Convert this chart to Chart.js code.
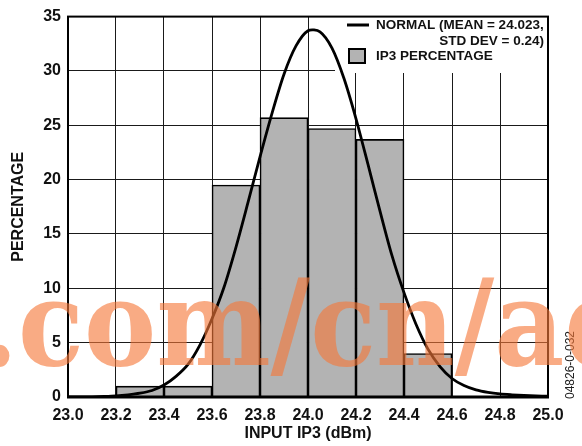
<!DOCTYPE html>
<html><head><meta charset="utf-8">
<script src="https://cdn.jsdelivr.net/npm/chart.js@4.4.1/dist/chart.umd.min.js"></script>
<style>html,body{margin:0;padding:0;background:#fff}#wrap{width:582px;height:446px;position:relative}</style>
</head><body><div id="wrap"><canvas id="c" width="582" height="446"></canvas></div>
<script>
// Histogram bins (centres, dBm) and percentages
const binCenters = [23.3, 23.5, 23.7, 23.9, 24.1, 24.3, 24.5];
const ip3Percentage = [1.0, 1.0, 19.5, 25.7, 24.7, 23.7, 4.0];
// Normal curve
const curveX = [23.00,23.05,23.10,23.15,23.20,23.25,23.30,23.35,23.40,23.45,23.50,23.55,23.60,23.65,23.70,23.75,23.80,23.85,23.90,23.95,24.00,24.05,24.10,24.15,24.20,24.25,24.30,24.35,24.40,24.45,24.50,24.55,24.60,24.65,24.70,24.75,24.80,24.85,24.90,24.95,25.00];
const curveY = [0.0,0.0,0.02,0.05,0.1,0.2,0.35,0.6,1.1,1.9,3.0,4.8,7.2,10.1,13.8,17.9,22.1,26.1,29.7,32.3,33.7,33.6,32.1,29.3,25.6,21.4,17.1,13.0,9.6,6.7,4.4,2.8,1.7,1.05,0.65,0.42,0.28,0.2,0.14,0.1,0.08];
const xTickLabels = ['23.0','23.2','23.4','23.6','23.8','24.0','24.2','24.4','24.6','24.8','25.0'];
const yTickLabels = ['0','5','10','15','20','25','30','35'];
const legendLabels = ['NORMAL (MEAN = 24.023,', 'STD DEV = 0.24)', 'IP3 PERCENTAGE'];
const xTitle = 'INPUT IP3 (dBm)';
const yTitle = 'PERCENTAGE';
const watermark = '.com/cn/ad';
const figId = '04826-0-032';

const FONT = 'Liberation Sans, Arial, Helvetica, sans-serif';
const GRAY = '#b3b3b3';

const decor = {
  id: 'decor',
  beforeDatasetsDraw(chart) {
    const {ctx, chartArea: a} = chart;
    ctx.save();
    ctx.fillStyle = '#fff';
    ctx.fillRect(335, a.top, a.right - 335, 73 - a.top);
    ctx.restore();
  },
  afterDatasetsDraw(chart) {
    const {ctx, chartArea: a} = chart;
    ctx.save();
    ctx.strokeStyle = '#000';
    ctx.lineWidth = 2;
    ctx.strokeRect(a.left, a.top, a.right - a.left, a.bottom - a.top);
    ctx.lineWidth = 3;
    ctx.beginPath(); ctx.moveTo(a.left - 1, a.bottom); ctx.lineTo(a.right + 1, a.bottom); ctx.stroke();
    // legend
    ctx.lineWidth = 3;
    ctx.beginPath(); ctx.moveTo(347, 25); ctx.lineTo(369, 25); ctx.stroke();
    ctx.fillStyle = GRAY; ctx.fillRect(349, 49, 16, 14);
    ctx.lineWidth = 2; ctx.strokeRect(349, 49, 16, 14);
    ctx.fillStyle = '#111';
    ctx.font = 'bold 13.5px ' + FONT;
    ctx.textBaseline = 'middle';
    ctx.textAlign = 'left';
    ctx.fillText(legendLabels[0], 376, 25);
    ctx.textAlign = 'right';
    ctx.fillText(legendLabels[1], 544, 41.5);
    ctx.textAlign = 'left';
    ctx.fillText(legendLabels[2], 376, 56);
    ctx.restore();
  },
  afterDraw(chart) {
    const {ctx} = chart;
    ctx.save();
    // figure id
    ctx.translate(571, 365);
    ctx.rotate(-Math.PI / 2);
    ctx.fillStyle = '#222';
    ctx.font = '12px ' + FONT;
    ctx.textAlign = 'center';
    ctx.textBaseline = 'middle';
    ctx.fillText(figId, 0, 0);
    ctx.restore();
    ctx.save();
    ctx.globalAlpha = 0.62;
    ctx.fillStyle = 'rgb(246,120,56)';
    ctx.font = 'bold 118px "DejaVu Serif", serif';
    ctx.textAlign = 'left';
    ctx.textBaseline = 'alphabetic';
    ctx.translate(-19.6, 365);
    ctx.scale(0.917, 1.02);
    ctx.fillText(watermark, 0, 0);
    ctx.restore();
  }
};

new Chart(document.getElementById('c'), {
  type: 'bar',
  data: {
    datasets: [
      {
        type: 'line',
        label: 'NORMAL',
        data: curveX.map((x, i) => ({x, y: curveY[i]})),
        borderColor: '#000',
        borderWidth: 2.8,
        pointRadius: 0,
        tension: 0.3,
        fill: false,
        order: 0
      },
      {
        type: 'bar',
        label: 'IP3 PERCENTAGE',
        data: binCenters.map((x, i) => ({x, y: ip3Percentage[i]})),
        backgroundColor: GRAY,
        borderColor: '#000',
        borderWidth: 1.6,
        borderSkipped: 'bottom',
        barPercentage: 1,
        categoryPercentage: 1,
        order: 1
      }
    ]
  },
  options: {
    responsive: false,
    animation: false,
    devicePixelRatio: 1,
    layout: {padding: {top: 14, right: 34, left: 0, bottom: 0}},
    plugins: {legend: {display: false}, tooltip: {enabled: false}},
    scales: {
      x: {
        type: 'linear', min: 23, max: 25, offset: false,
        afterBuildTicks(s) { s.ticks = xTickLabels.map(v => ({value: parseFloat(v)})); },
        afterFit(s) { s.height = 49; },
        grid: {color: '#1a1a1a', lineWidth: 1, drawTicks: false, offset: false},
        border: {display: false},
        ticks: {
          callback: (v) => Number(v).toFixed(1),
          color: '#111', padding: 9, maxRotation: 0, autoSkip: false,
          font: {family: FONT, size: 16, weight: 'bold'}
        },
        title: {display: true, text: xTitle, color: '#111', padding: {top: 0, bottom: 2.4},
          font: {family: FONT, size: 16, weight: 'bold'}}
      },
      y: {
        type: 'linear', min: 0, max: 35,
        afterBuildTicks(s) { s.ticks = yTickLabels.map(v => ({value: parseFloat(v)})); },
        afterFit(s) { s.width = 68; },
        grid: {color: '#1a1a1a', lineWidth: 1, drawTicks: false},
        border: {display: false},
        ticks: {color: '#111', padding: 7, font: {family: FONT, size: 16, weight: 'bold'}},
        title: {display: true, text: yTitle, color: '#111', padding: {top: 9, bottom: 0},
          font: {family: FONT, size: 16, weight: 'bold'}}
      }
    }
  },
  plugins: [decor]
});
</script>
</body></html>
